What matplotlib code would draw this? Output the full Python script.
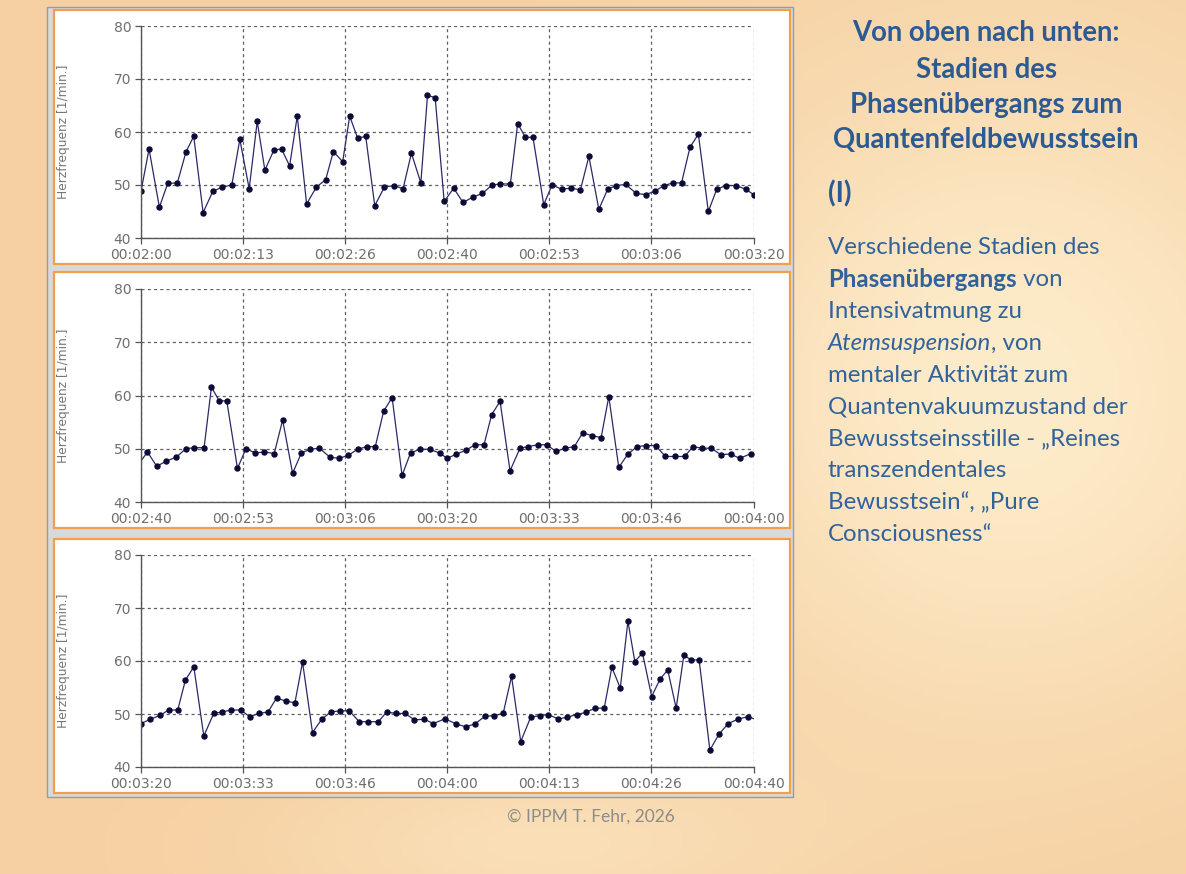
import numpy as np
import matplotlib
matplotlib.use("Agg")
import matplotlib.pyplot as plt
from matplotlib.patches import Rectangle

W, H = 1186, 874

# heart rate per beat, time in seconds since 00:00:00
beat_time = [
    120.0, 121.05, 122.4, 123.49, 124.75, 125.89, 126.89, 128.11, 129.38, 130.6,
    131.86, 132.91, 134.13, 135.18, 136.18, 137.36, 138.36, 139.41, 140.41, 141.63,
    142.9, 144.12, 145.12, 146.34, 147.26, 148.3, 149.35, 150.53, 151.79, 153.01,
    154.23, 155.32, 156.55, 157.42, 158.42, 159.6,
    160.84, 162.06, 163.32, 164.59, 165.85, 166.94, 168.24, 169.2, 170.2, 171.2,
    172.6, 173.7, 174.95, 176.1, 177.4, 178.5, 179.8, 180.95, 182.1, 183.3,
    184.7, 185.9, 187.1, 188.3, 189.5, 190.6, 191.7, 192.8, 194.1, 195.2,
    196.4, 197.7, 199.0,
    200.0, 201.2, 202.5, 203.6, 204.8, 205.8, 206.9, 208.2, 209.5, 210.6,
    211.8, 213.0, 214.2, 215.4, 216.6, 217.7, 218.9, 220.1, 221.1, 222.4,
    223.6, 224.8, 226.0, 227.2, 228.5, 229.7, 231.0, 232.1, 233.3, 234.5,
    235.7, 237.0, 238.2, 239.7,
    241.2, 242.4, 243.6, 244.9, 246.1, 247.3, 248.4, 249.6, 250.9, 252.1,
    253.2, 254.5, 255.7, 256.9, 258.1, 259.3, 260.5, 261.5, 262.6, 263.6,
    264.5, 265.5, 266.7, 267.8, 268.8, 269.9, 270.9, 271.9, 272.9, 274.3,
    275.5, 276.7, 278.0, 279.3, 280.6,
]
heart_rate = [
    48.8, 56.8, 45.8, 50.3, 50.4, 56.3, 59.2, 44.8, 48.8, 49.6,
    50.0, 58.6, 49.3, 62.0, 52.8, 56.6, 56.8, 53.6, 63.0, 46.4,
    49.6, 51.0, 56.3, 54.4, 63.0, 58.8, 59.2, 46.1, 49.6, 49.9,
    49.3, 56.0, 50.4, 66.9, 66.5, 46.9,
    49.4, 46.7, 47.7, 48.4, 50.0, 50.2, 50.2, 61.6, 59.0, 59.0,
    46.3, 50.0, 49.2, 49.4, 49.1, 55.4, 45.4, 49.2, 49.9, 50.1,
    48.4, 48.2, 48.8, 49.9, 50.4, 50.4, 57.1, 59.6, 45.0, 49.2,
    49.9, 49.9, 49.2,
    48.2, 49.0, 49.75, 50.75, 50.75, 56.4, 58.9, 45.85, 50.1, 50.4,
    50.75, 50.75, 49.5, 50.1, 50.4, 53.0, 52.45, 52.1, 59.8, 46.5,
    49.0, 50.4, 50.6, 50.6, 48.55, 48.55, 48.55, 50.4, 50.1, 50.1,
    48.9, 49.0, 48.2, 49.1,
    48.1, 47.6, 48.1, 49.55, 49.7, 50.1, 57.1, 44.8, 49.4, 49.7,
    49.9, 49.05, 49.4, 49.9, 50.3, 51.1, 51.1, 58.8, 54.9, 67.5,
    59.9, 61.5, 53.3, 56.6, 58.3, 51.1, 61.05, 60.2, 60.2, 43.2,
    46.2, 48.2, 49.05, 49.5, 48.8,
]
# window start of each panel (seconds) -- each shows 80 s
panel_start = [120, 160, 200]
y_ticks = [40, 50, 60, 70, 80]

title_lines = ["Von oben nach unten:", "Stadien des",
               "Phasenübergangs zum", "Quantenfeldbewusstsein"]
body_lines = [
    [("Verschiedene Stadien des", "normal", "normal")],
    [("Phasenübergangs", "bold", "normal"), (" von", "normal", "normal")],
    [("Intensivatmung zu", "normal", "normal")],
    [("Atemsuspension", "normal", "italic"), (", von", "normal", "normal")],
    [("mentaler Aktivität zum", "normal", "normal")],
    [("Quantenvakuumzustand der", "normal", "normal")],
    [("Bewusstseinsstille - „Reines", "normal", "normal")],
    [("transzendentales", "normal", "normal")],
    [("Bewusstsein“, „Pure", "normal", "normal")],
    [("Consciousness“", "normal", "normal")],
]


def fx(x):
    return x / W


def fy(y):
    return 1 - y / H


def hms(sec, pos=None):
    s = int(np.floor(round(sec, 4)))
    return f"{s // 3600:02d}:{(s % 3600) // 60:02d}:{s % 60:02d}"


fig = plt.figure(figsize=(W / 100, H / 100), dpi=100)

# -------------------------
# background
# -------------------------
ax_bg = fig.add_axes([0, 0, 1, 1], zorder=-10)
yy, xx = np.mgrid[0:1:200j, 0:1:280j]
base = np.array([246, 208, 162]) / 255
light = np.array([253, 236, 202]) / 255
w = np.exp(-((xx - 0.85) ** 2) / 0.08 - ((yy - 0.45) ** 2) / 0.15)
w += 0.5 * np.exp(-((xx - 0.45) ** 2) / 0.05 - ((yy - 0.97) ** 2) / 0.01)
w = np.clip(w, 0, 1)
img = base[None, None, :] * (1 - w[..., None]) + light[None, None, :] * w[..., None]
ax_bg.imshow(img, aspect="auto", extent=[0, 1, 1, 0])
ax_bg.set_xlim(0, 1)
ax_bg.set_ylim(1, 0)
ax_bg.axis("off")

# outer gray frame
fig.add_artist(Rectangle((fx(47), fy(797)), fx(793 - 47), 790 / H,
                         transform=fig.transFigure, facecolor="#d9d9d9",
                         edgecolor="#9a9a9a", lw=1.0, zorder=-5))

boxes = [(10, 264), (272, 528), (539, 793)]
axes_y = [(26, 238), (289, 502), (555, 767)]

for i, start in enumerate(panel_start):
    top, bot = boxes[i]
    fig.add_artist(Rectangle((fx(54), fy(bot)), fx(790 - 54), (bot - top) / H,
                             transform=fig.transFigure, facecolor="white",
                             edgecolor="#f0a04a", lw=1.6, zorder=-4))
    at, ab = axes_y[i]
    ax = fig.add_axes([fx(141), fy(ab), fx(753.5 - 141), (ab - at) / H])
    ax.set_facecolor("none")
    ax.plot(beat_time, heart_rate, color="#2a2a66", lw=0.9,
            marker="o", markersize=3.6, markerfacecolor="#0b0b35",
            markeredgecolor="#0b0b35")
    ax.set_xlim(start, start + 80)
    ax.set_ylim(40, 80)
    ax.set_xticks([start + 80 * k / 6 for k in range(7)])
    ax.set_yticks(y_ticks)
    ax.xaxis.set_major_formatter(plt.FuncFormatter(hms))
    ax.grid(True, color="#606060", ls=(0, (2.5, 2.5)), lw=0.9)
    for s in ["top", "right"]:
        ax.spines[s].set_visible(False)
    for s in ["left", "bottom"]:
        ax.spines[s].set_color("#555555")
        ax.spines[s].set_linewidth(1.0)
    ax.tick_params(colors="#555555", labelcolor="#6e6e6e", labelsize=10,
                   length=4, width=0.9, pad=3)
    ax.set_ylabel("Herzfrequenz [1/min.]", color="#777777", fontsize=8.8)
    ax.yaxis.set_label_coords(-0.116, 0.5)

# -------------------------
# right text block
# -------------------------
title_col = "#2c5b94"
body_col = "#31629c"
fam = ["Lato", "DejaVu Sans"]
title_y = [33, 70, 105, 140]
for line, y in zip(title_lines, title_y):
    fig.text(fx(986), fy(y), line, ha="center", va="center", fontsize=19.8,
             fontweight="bold", color=title_col, family=fam)
fig.text(fx(828), fy(194), "(I)", ha="left", va="center", fontsize=19.8,
         fontweight="bold", color=title_col, family=fam)

fig.canvas.draw()
renderer = fig.canvas.get_renderer()
for k, runs in enumerate(body_lines):
    y = 248 + k * 31.8
    x = 828
    for txt, weight, style in runs:
        t = fig.text(fx(x), fy(y), txt, ha="left", va="center", fontsize=17.3,
                     fontweight=weight, fontstyle=style, color=body_col,
                     family=fam)
        bb = t.get_window_extent(renderer)
        x = x + bb.width

fig.text(fx(591), fy(817), "© IPPM T. Fehr, 2026", ha="center", va="center",
         fontsize=12.5, color="#8c8c8c", family=fam)

fig.savefig("out.png", dpi=100)
